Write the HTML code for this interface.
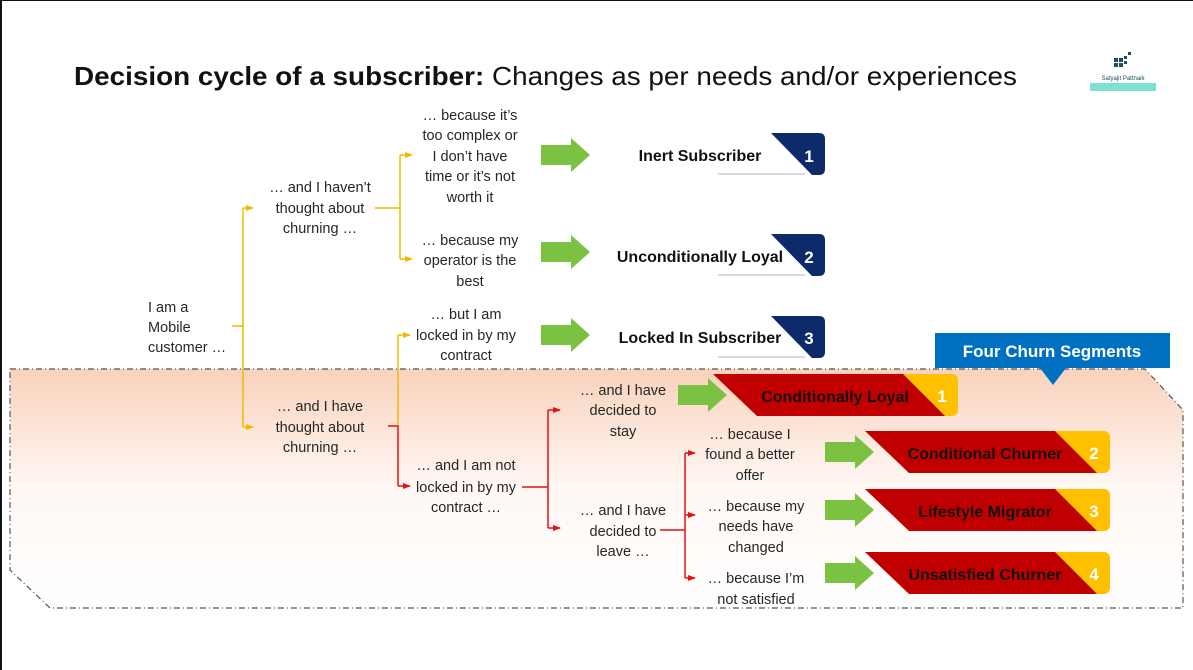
<!DOCTYPE html>
<html><head><meta charset="utf-8"><style>
html,body{margin:0;padding:0;background:#fff}
svg{display:block}
text{font-family:"Liberation Sans",sans-serif}
.t{font-size:14.5px;fill:#262626;text-anchor:middle}
.b{font-weight:bold;font-size:16px;fill:#111;text-anchor:middle}
.n{font-weight:bold;font-size:17px;fill:#fff;text-anchor:middle}
</style></head><body>
<svg width="1193" height="670" viewBox="0 0 1193 670" xmlns="http://www.w3.org/2000/svg">
<defs>
<linearGradient id="g" x1="0" y1="0" x2="0" y2="1">
<stop offset="0" stop-color="#f8d2bc"/><stop offset="0.5" stop-color="#fff8f4"/><stop offset="1" stop-color="#fff"/>
</linearGradient>
<marker id="ay" markerWidth="8" markerHeight="8" refX="7" refY="4" orient="auto" markerUnits="userSpaceOnUse"><path d="M0,1 L8,4 L0,7z" fill="#f5b800"/></marker>
<marker id="ar" markerWidth="8" markerHeight="8" refX="7" refY="4" orient="auto" markerUnits="userSpaceOnUse"><path d="M0,1 L8,4 L0,7z" fill="#e81010"/></marker>
<g id="ga"><path d="M0,-10 L30,-10 L30,-17 L49,0 L30,17 L30,10 L0,10z" fill="#7cc242"/></g>
</defs>
<rect x="0" y="0" width="2" height="670" fill="#111"/>
<rect x="0" y="0" width="1193" height="1" fill="#111"/>

<path d="M10,369 L1145,369 L1183,410 L1183,608 L50,608 L10,570 Z" fill="url(#g)" stroke="#555" stroke-width="1.2" stroke-dasharray="6,3,1,3"/>

<text x="74" y="85" font-size="26" fill="#111" textLength="943" lengthAdjust="spacingAndGlyphs"><tspan font-weight="bold">Decision cycle of a subscriber:</tspan> Changes as per needs and/or experiences</text>
<g fill="#1d4f5a"><rect x="1114" y="58" width="4" height="4"/><rect x="1119" y="58" width="4" height="4"/><rect x="1114" y="63" width="4" height="4"/><rect x="1119" y="63" width="4" height="4"/><rect x="1124" y="56" width="3" height="3"/><rect x="1128" y="52" width="3" height="3"/><rect x="1124" y="61" width="3" height="3"/></g>
<rect x="1090" y="83" width="66" height="8" fill="#7ee0d4"/>
<text x="1123" y="80" font-size="6" fill="#1d4f5a" text-anchor="middle">Satyajit Pattnaik</text>

<g stroke="#f5b800" stroke-width="1.5" fill="none">
<path d="M232,326 H243"/><path d="M243,208 V427"/>
<path d="M243,208 H253" marker-end="url(#ay)"/><path d="M243,427 H253" marker-end="url(#ay)"/>
<path d="M375,208 H400"/><path d="M400,155 V259"/>
<path d="M400,155 H412" marker-end="url(#ay)"/><path d="M400,259 H412" marker-end="url(#ay)"/>
<path d="M398,426 V335"/><path d="M398,335 H410" marker-end="url(#ay)"/>
</g>
<g stroke="#e81010" stroke-width="1.5" fill="none">
<path d="M388,426 H398 V486"/><path d="M398,486 H410" marker-end="url(#ar)"/>
<path d="M522,487 H548"/><path d="M548,410 V528"/>
<path d="M548,410 H560" marker-end="url(#ar)"/><path d="M548,528 H560" marker-end="url(#ar)"/>
<path d="M660,530 H685"/><path d="M685,453 V578"/>
<path d="M685,453 H695" marker-end="url(#ar)"/><path d="M685,515 H695" marker-end="url(#ar)"/><path d="M685,578 H695" marker-end="url(#ar)"/>
</g>

<text class="t" style="text-anchor:start" x="148" y="312">I am a</text>
<text class="t" style="text-anchor:start" x="148" y="332">Mobile</text>
<text class="t" style="text-anchor:start" x="148" y="352">customer …</text>
<text class="t" x="320" y="192">… and I haven’t</text><text class="t" x="320" y="213">thought about</text><text class="t" x="320" y="233">churning …</text>
<text class="t" x="320" y="411">… and I have</text><text class="t" x="320" y="432">thought about</text><text class="t" x="320" y="452">churning …</text>
<text class="t" x="470" y="120">… because it’s</text><text class="t" x="470" y="140">too complex or</text><text class="t" x="470" y="161">I don’t have</text><text class="t" x="470" y="181">time or it’s not</text><text class="t" x="470" y="202">worth it</text>
<text class="t" x="470" y="245">… because my</text><text class="t" x="470" y="265">operator is the</text><text class="t" x="470" y="286">best</text>
<text class="t" x="466" y="319">… but I am</text><text class="t" x="466" y="340">locked in by my</text><text class="t" x="466" y="360">contract</text>
<text class="t" x="466" y="470">… and I am not</text><text class="t" x="466" y="492">locked in by my</text><text class="t" x="466" y="512">contract …</text>
<text class="t" x="623" y="395">… and I have</text><text class="t" x="623" y="415">decided to</text><text class="t" x="623" y="436">stay</text>
<text class="t" x="623" y="515">… and I have</text><text class="t" x="623" y="536">decided to</text><text class="t" x="623" y="556">leave …</text>
<text class="t" x="750" y="439">… because I</text><text class="t" x="750" y="459">found a better</text><text class="t" x="750" y="480">offer</text>
<text class="t" x="756" y="511">… because my</text><text class="t" x="756" y="531">needs have</text><text class="t" x="756" y="552">changed</text>
<text class="t" x="756" y="583">… because I’m</text><text class="t" x="756" y="604">not satisfied</text>

<use href="#ga" x="541" y="155"/><use href="#ga" x="541" y="252"/><use href="#ga" x="541" y="335"/>
<use href="#ga" x="678" y="395"/><use href="#ga" x="825" y="452"/><use href="#ga" x="825" y="510"/><use href="#ga" x="825" y="573"/>

<g>
<path d="M718,174 H805" stroke="#ccd" stroke-width="1.5"/>
<path d="M771,133 H819 Q825,133 825,139 V169 Q825,175 819,175 H812 Z" fill="#0d2a6b"/>
<text class="b" x="700" y="161">Inert Subscriber</text><text class="n" x="809" y="162">1</text>
<path d="M718,275 H805" stroke="#ccd" stroke-width="1.5"/>
<path d="M771,234 H819 Q825,234 825,240 V270 Q825,276 819,276 H812 Z" fill="#0d2a6b"/>
<text class="b" x="700" y="262">Unconditionally Loyal</text><text class="n" x="809" y="263">2</text>
<path d="M718,357 H805" stroke="#ccd" stroke-width="1.5"/>
<path d="M771,316 H819 Q825,316 825,322 V352 Q825,358 819,358 H812 Z" fill="#0d2a6b"/>
<text class="b" x="700" y="343">Locked In Subscriber</text><text class="n" x="809" y="344">3</text>
</g>

<rect x="935" y="333" width="235" height="35" fill="#0070c0"/>
<path d="M1040,368 H1066 L1053,385 Z" fill="#0070c0"/>
<text x="1052" y="357" font-size="17" font-weight="bold" fill="#fff" text-anchor="middle">Four Churn Segments</text>

<g>
<rect x="880" y="374" width="78" height="42" rx="6" fill="#ffc000"/>
<path d="M713,374 H903 L945,416 H757 Z" fill="#c00000"/>
<text class="b" x="835" y="402">Conditionally Loyal</text><text class="n" x="942" y="402">1</text>
<rect x="1030" y="431" width="80" height="42" rx="6" fill="#ffc000"/>
<path d="M865,431 H1055 L1097,473 H909 Z" fill="#c00000"/>
<text class="b" x="985" y="459">Conditional Churner</text><text class="n" x="1094" y="459">2</text>
<rect x="1030" y="489" width="80" height="42" rx="6" fill="#ffc000"/>
<path d="M865,489 H1055 L1097,531 H909 Z" fill="#c00000"/>
<text class="b" x="985" y="517">Lifestyle Migrator</text><text class="n" x="1094" y="517">3</text>
<rect x="1030" y="552" width="80" height="42" rx="6" fill="#ffc000"/>
<path d="M865,552 H1055 L1097,594 H909 Z" fill="#c00000"/>
<text class="b" x="985" y="580">Unsatisfied Churner</text><text class="n" x="1094" y="580">4</text>
</g>
</svg>
</body></html>
